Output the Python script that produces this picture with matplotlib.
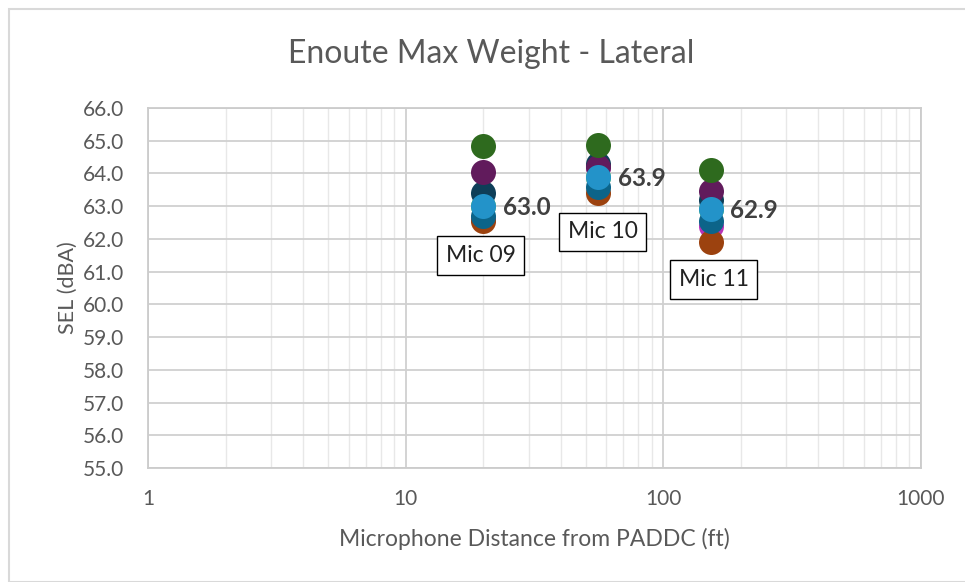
import matplotlib
matplotlib.use('Agg')
import matplotlib.pyplot as plt
from matplotlib.ticker import LogLocator, FixedLocator, NullFormatter
from matplotlib.patches import Rectangle

plt.rcParams['font.family'] = ['Lato', 'DejaVu Sans']

# microphone distances (ft)
mic_names = ['Mic 09', 'Mic 10', 'Mic 11']
distance = [20, 56, 153]

# SEL (dBA) per series at each mic, drawn in this order
series_names = ['s1', 's2', 's3', 's4', 's5', 's6', 's7', 'avg']
series_colors = ['#b832b8', '#5cc43a', '#9c420f', '#0c6489',
                 '#0e3e58', '#611b5c', '#2e6a1e', '#2393c9']
sel = [
    [62.6, 64.2, 62.4],
    [63.0, 63.9, 62.9],
    [62.55, 63.4, 61.9],
    [62.7, 63.6, 62.55],
    [63.4, 64.3, 63.2],
    [64.05, 64.2, 63.45],
    [64.85, 64.87, 64.1],
    [63.0, 63.9, 62.9],
]
avg_labels = ['63.0', '63.9', '62.9']

fig = plt.figure(figsize=(9.65, 5.82), dpi=100)
fig.patches.append(Rectangle((9 / 965, 0), 1.0, 1 - 9 / 582, transform=fig.transFigure,
                             fill=False, edgecolor='#d9d9d9', linewidth=1.5))
ax = fig.add_axes([148 / 965, 1 - 468 / 582, (921 - 148) / 965, (468 - 108) / 582])

for name, col, vals in zip(series_names, series_colors, sel):
    ax.plot(distance, vals, linestyle='none', marker='o', markersize=18,
            color=col, markeredgewidth=0, zorder=3)

# data labels on the average series
for x, y, txt in zip(distance, sel[-1], avg_labels):
    ax.annotate(txt, (x, y), xytext=(14, -1), textcoords='offset points',
                ha='left', va='center', fontsize=17.5, fontweight='bold',
                color='#404040', zorder=5)

# mic name boxes below each stack
box_offsets = [(-2, -25), (3, -28), (2, -27)]
for i, name in enumerate(mic_names):
    low = min(s[i] for s in sel)
    ax.annotate(name, (distance[i], low), xytext=box_offsets[i], textcoords='offset points',
                ha='center', va='center', fontsize=16.5, color='#222222', zorder=6,
                bbox=dict(boxstyle='square,pad=0.38', fc='white', ec='black', lw=1))

ax.set_xscale('log')
ax.set_xlim(1, 1000)
ax.set_ylim(55, 66)
ax.set_yticks([55 + i for i in range(12)])
ax.set_yticklabels(['%.1f' % (55 + i) for i in range(12)])
ax.xaxis.set_major_locator(FixedLocator([1, 10, 100, 1000]))
ax.set_xticklabels(['1', '10', '100', '1000'])
ax.xaxis.set_minor_locator(LogLocator(base=10, subs=range(2, 10)))
ax.xaxis.set_minor_formatter(NullFormatter())

ax.grid(True, which='major', color='#d0d0d0', linewidth=1.3, zorder=0)
ax.grid(True, which='minor', axis='x', color='#e8e8e8', linewidth=1.0, zorder=0)
ax.set_axisbelow(True)
for side in ['top', 'right', 'left', 'bottom']:
    ax.spines[side].set_color('#cccccc')
    ax.spines[side].set_linewidth(1.3)
ax.tick_params(which='both', length=0, colors='#595959', labelsize=15)
ax.tick_params(axis='x', pad=15)
ax.tick_params(axis='y', pad=17)

fig.text(491 / 965, 1 - 54 / 582, 'Enoute Max Weight - Lateral', fontsize=23,
         color='#595959', ha='center', va='center')
ax.set_xlabel('Microphone Distance from PADDC (ft)', fontsize=16.5, color='#595959', labelpad=14)
ax.set_ylabel('SEL (dBA)', fontsize=15.5, color='#595959', labelpad=4)

fig.savefig('out.png', dpi=100, facecolor='white')
